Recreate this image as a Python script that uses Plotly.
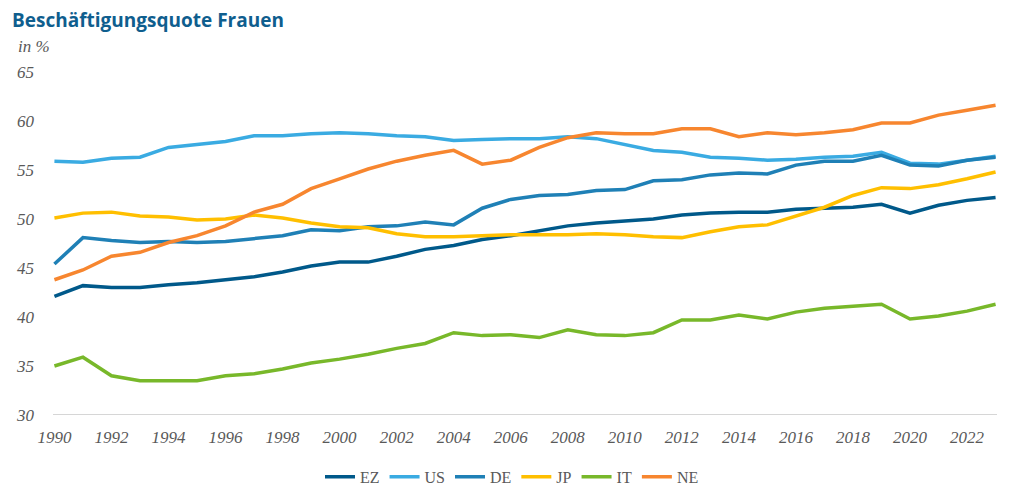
import plotly.graph_objects as go

years = list(range(1990, 2024))

EZ = [42.1, 43.2, 43.0, 43.0, 43.3, 43.5, 43.8, 44.1, 44.6, 45.2, 45.6, 45.6, 46.2, 46.9, 47.3, 47.9, 48.3, 48.8, 49.3, 49.6,
      49.8, 50.0, 50.4, 50.6, 50.7, 50.7, 51.0, 51.1, 51.2, 51.5, 50.6, 51.4, 51.9, 52.2]
US = [55.9, 55.8, 56.2, 56.3, 57.3, 57.6, 57.9, 58.5, 58.5, 58.7, 58.8, 58.7, 58.5, 58.4, 58.0, 58.1, 58.2, 58.2, 58.4, 58.2,
      57.6, 57.0, 56.8, 56.3, 56.2, 56.0, 56.1, 56.3, 56.4, 56.8, 55.7, 55.6, 56.0, 56.4]
DE = [45.4, 48.1, 47.8, 47.6, 47.7, 47.6, 47.7, 48.0, 48.3, 48.9, 48.8, 49.2, 49.3, 49.7, 49.4, 51.1, 52.0, 52.4, 52.5, 52.9,
      53.0, 53.9, 54.0, 54.5, 54.7, 54.6, 55.5, 55.9, 55.9, 56.5, 55.5, 55.4, 56.0, 56.3]
JP = [50.1, 50.6, 50.7, 50.3, 50.2, 49.9, 50.0, 50.4, 50.1, 49.6, 49.2, 49.1, 48.5, 48.2, 48.2, 48.3, 48.4, 48.4, 48.4, 48.5,
      48.4, 48.2, 48.1, 48.7, 49.2, 49.4, 50.3, 51.2, 52.4, 53.2, 53.1, 53.5, 54.1, 54.8]
IT = [35.0, 35.9, 34.0, 33.5, 33.5, 33.5, 34.0, 34.2, 34.7, 35.3, 35.7, 36.2, 36.8, 37.3, 38.4, 38.1, 38.2, 37.9, 38.7, 38.2,
      38.1, 38.4, 39.7, 39.7, 40.2, 39.8, 40.5, 40.9, 41.1, 41.3, 39.8, 40.1, 40.6, 41.3]
NE = [43.8, 44.8, 46.2, 46.6, 47.6, 48.3, 49.3, 50.7, 51.5, 53.1, 54.1, 55.1, 55.9, 56.5, 57.0, 55.6, 56.0, 57.3, 58.3, 58.8,
      58.7, 58.7, 59.2, 59.2, 58.4, 58.8, 58.6, 58.8, 59.1, 59.8, 59.8, 60.6, 61.1, 61.6]

series = [("EZ", EZ, "#00598a"), ("US", US, "#3aabe2"), ("DE", DE, "#1f80b6"),
          ("JP", JP, "#ffbf00"), ("IT", IT, "#78b82a"), ("NE", NE, "#f7862f")]

x_ticks = list(range(1990, 2024, 2))
y_ticks = list(range(30, 70, 5))

fig = go.Figure()
for name, vals, col in series:
    fig.add_trace(go.Scatter(x=years, y=vals, name=name, mode="lines",
                             line=dict(color=col, width=3.5)))

tick_font = dict(family="Liberation Serif, DejaVu Serif, serif", size=17, color="#595959", style="italic")

fig.update_layout(
    width=1024, height=493,
    margin=dict(l=53, r=27, t=72, b=78, autoexpand=False),
    paper_bgcolor="white", plot_bgcolor="white",
    showlegend=True,
    legend=dict(orientation="h", x=0.5, xanchor="center", xref="container",
                y=0.033, yanchor="middle", yref="container",
                font=dict(family="Liberation Serif, serif", size=16, color="#595959"),
                itemwidth=30, tracegroupgap=0),
    annotations=[
        dict(text="<b>Beschäftigungsquote Frauen</b>", xref="paper", yref="paper", x=-0.0455, y=1.152,
             xanchor="left", yanchor="middle", showarrow=False,
             font=dict(family="Open Sans, sans-serif", size=19, color="#0f5e8e")),
        dict(text="in %", xref="paper", yref="paper", x=-0.039, y=1.073, xanchor="left", yanchor="middle",
             showarrow=False, font=dict(family="Liberation Serif, serif", size=17, color="#595959", style="italic")),
    ],
)
fig.update_xaxes(range=[1989.95, 2023.05], tickvals=x_ticks, ticktext=[str(t) for t in x_ticks],
                 showgrid=False, zeroline=False, showline=False, ticks="", tickfont=tick_font,
                 ticklabelstandoff=10, automargin=False)
fig.update_yaxes(range=[30, 65], tickvals=y_ticks, ticktext=[str(t) for t in y_ticks],
                 showgrid=False, zeroline=False, showline=False, ticks="", tickfont=tick_font,
                 ticklabelstandoff=18, automargin=False)
fig.add_shape(type="line", xref="paper", yref="y", x0=0, x1=1, y0=30, y1=30,
              line=dict(color="#c8c8c8", width=1.5), layer="below")

fig.write_html("out.html", config={"displayModeBar": False},
               post_script="document.body.style.margin='0';document.body.style.overflow='hidden';")
